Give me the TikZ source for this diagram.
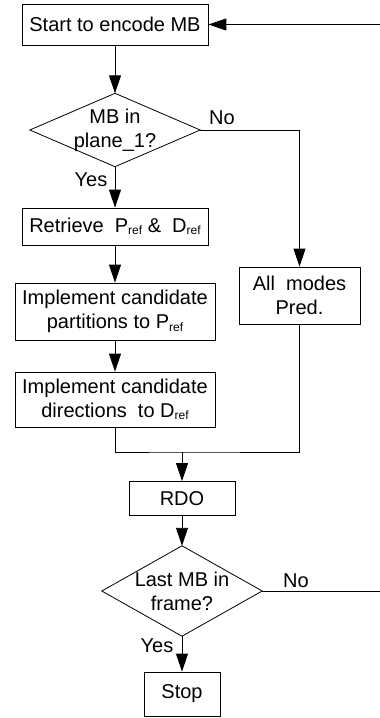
\documentclass[tikz,border=0pt]{standalone}
\usepackage{fontspec}
\setmainfont{Liberation Sans}
\usetikzlibrary{arrows.meta}
\newcommand\rsub[1]{\raisebox{-2.5pt}{\fontsize{12}{12}\selectfont #1}}
\begin{document}
\begin{tikzpicture}[x=1pt,y=-1pt,
  font=\fontsize{20}{24}\selectfont,
  box/.style={draw,line width=0.8pt,inner sep=0pt,align=center},
  dia/.style={inner sep=0pt,align=center},
  lbl/.style={inner sep=0pt},
  conn/.style={line width=0.9pt},
  arr/.style={conn,-{Triangle[length=18pt,width=12pt]}}]
\useasboundingbox (0,0) rectangle (380,718);
\node[box,minimum width=186pt,minimum height=41pt] (start) at (115,24.5) {Start to encode MB};
\node[dia,minimum width=170pt,minimum height=73pt] (d1) at (115,130) {MB in\\plane\_1?};
\draw[line width=0.8pt] (d1.north) -- (d1.east) -- (d1.south) -- (d1.west) -- cycle;
\node[box,minimum width=186pt,minimum height=37pt] (ret) at (115,226.5) {Retrieve~ P\rsub{ref} \& ~D\rsub{ref}};
\node[box,minimum width=200pt,minimum height=57pt] (im1) at (115,311.5) {Implement candidate\\partitions to P\rsub{ref}};
\node[box,minimum width=200pt,minimum height=55pt] (im2) at (115,399.5) {Implement candidate\\directions~ to D\rsub{ref}};
\node[box,minimum width=121pt,minimum height=57pt] (am) at (299.5,295.5) {All~ modes\\Pred.};
\node[box,minimum width=106pt,minimum height=34pt] (rdo) at (182,498.5) {RDO};
\node[dia,minimum width=160pt,minimum height=90pt] (d2) at (182,591) {Last MB in\\frame?};
\draw[line width=0.8pt] (d2.north) -- (d2.east) -- (d2.south) -- (d2.west) -- cycle;
\node[box,minimum width=76pt,minimum height=44pt] (stop) at (182,694) {Stop};
\coordinate (m) at (182,452);
\coordinate (r1) at (380,24.5);
\coordinate (r2) at (380,591);
\node[lbl] (no1) at (222,118) {No};
\node[lbl] (yes1) at (91,180) {Yes};
\node[lbl] (no2) at (296,581) {No};
\node[lbl] (yes2) at (157,646) {Yes};
\draw[arr] (r1) -- (start.east);
\draw[arr] (start.south) -- (d1.north);
\draw[arr] (d1.south) -- (ret.north);
\draw[arr] (d1.east) -| (am.north);
\draw[arr] (ret.south) -- (im1.north);
\draw[arr] (im1.south) -- (im2.north);
\draw[conn] (im2.south) |- (m) -| (am.south);
\draw[arr] (m) -- (rdo.north);
\draw[arr] (rdo.south) -- (d2.north);
\draw[conn] (d2.east) -- (r2);
\draw[arr] (d2.south) -- (stop.north);
\end{tikzpicture}
\end{document}
